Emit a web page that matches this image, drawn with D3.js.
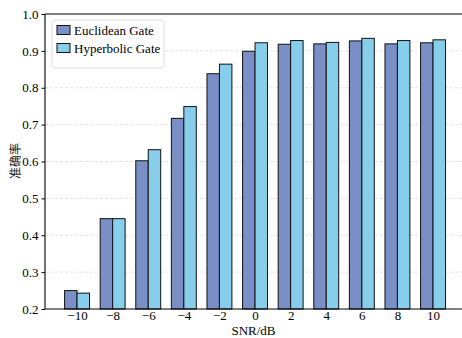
<!DOCTYPE html>
<html>
<head>
<meta charset="utf-8">
<script src="https://cdn.jsdelivr.net/npm/d3@7"></script>
<style>
  body { margin: 0; background: #fff; }
  svg text { font-family: "Liberation Serif", "Times New Roman", serif; }
</style>
</head>
<body>
<div id="chart"></div>
<script>
// data
const snr = [-10, -8, -6, -4, -2, 0, 2, 4, 6, 8, 10];
const euclidean = [0.250, 0.445, 0.602, 0.717, 0.838, 0.899, 0.918, 0.919, 0.927, 0.919, 0.922];
const hyperbolic = [0.243, 0.445, 0.632, 0.749, 0.864, 0.922, 0.928, 0.923, 0.934, 0.928, 0.930];
const yTicks = [0.2, 0.3, 0.4, 0.5, 0.6, 0.7, 0.8, 0.9, 1.0];
const seriesNames = ['Euclidean Gate', 'Hyperbolic Gate'];

const W = 462, H = 338;
const margin = { top: 14, bottom: 29, left: 45 };
const plotBottom = H - margin.bottom;
const colors = ['#7a8fc6', '#87ceeb'];
const serif = '"Liberation Serif", "Times New Roman", serif';

const svg = d3.select('#chart').append('svg')
  .attr('width', W)
  .attr('height', H)
  .attr('font-family', serif);

const x = d3.scaleLinear().domain([-11.8, 11.8]).range([margin.left, margin.left + 23.6 * 17.8]);
const y = d3.scaleLinear().domain([0.2, 1.0]).range([plotBottom, margin.top]);
const barW = 0.7; // in SNR units

// grid
svg.append('g')
  .selectAll('line')
  .data(yTicks.filter(d => d > 0.2 && d < 1.0))
  .join('line')
  .attr('x1', margin.left).attr('x2', W)
  .attr('y1', d => y(d)).attr('y2', d => y(d))
  .attr('stroke', '#d9d9d9')
  .attr('stroke-width', 0.8)
  .attr('stroke-dasharray', '3,2');

// bars
const series = [euclidean, hyperbolic];
series.forEach((vals, s) => {
  svg.append('g')
    .selectAll('rect')
    .data(snr)
    .join('rect')
    .attr('x', (d) => x(d + (s - 1) * barW))
    .attr('y', (d, i) => y(vals[i]))
    .attr('width', x(barW) - x(0))
    .attr('height', (d, i) => plotBottom - y(vals[i]))
    .attr('fill', colors[s])
    .attr('stroke', '#111')
    .attr('stroke-width', 1);
});

// axes
const yAxis = svg.append('g')
  .attr('transform', `translate(${margin.left},0)`)
  .call(d3.axisLeft(y).tickValues(yTicks).tickFormat(d3.format('.1f')).tickSize(3.5).tickPadding(3))
  .attr('font-family', serif)
  .attr('font-size', 13);
yAxis.select('.domain').remove();
yAxis.selectAll('text').attr('fill', '#000');

const xAxis = svg.append('g')
  .attr('transform', `translate(0,${plotBottom})`)
  .call(d3.axisBottom(x).tickValues(snr).tickFormat(d => d < 0 ? '\u2212' + Math.abs(d) : d).tickSize(0).tickPadding(2))
  .attr('font-family', serif)
  .attr('font-size', 13);
xAxis.select('.domain').remove();
xAxis.selectAll('text').attr('fill', '#000');

// spines
svg.append('line').attr('x1', margin.left).attr('x2', W).attr('y1', margin.top).attr('y2', margin.top)
  .attr('stroke', '#000').attr('stroke-width', 1.1);
svg.append('line').attr('x1', margin.left).attr('x2', W).attr('y1', plotBottom).attr('y2', plotBottom)
  .attr('stroke', '#000').attr('stroke-width', 1.1);
svg.append('line').attr('x1', margin.left).attr('x2', margin.left).attr('y1', margin.top).attr('y2', plotBottom)
  .attr('stroke', '#000').attr('stroke-width', 1.1);

// axis labels
svg.append('text')
  .attr('x', (margin.left + W) / 2)
  .attr('y', 335)
  .attr('text-anchor', 'middle')
  .attr('font-size', 13)
  .text('SNR/dB');

svg.append('text')
  .attr('transform', 'translate(20,161) rotate(-90)')
  .attr('text-anchor', 'middle')
  .attr('font-size', 12)
  .attr('fill', '#222')
  .style('font-family', '"Noto Sans CJK SC", sans-serif')
  .text('准确率');

// legend
const lg = svg.append('g').attr('transform', 'translate(52,20)');
lg.append('rect')
  .attr('width', 112).attr('height', 48)
  .attr('rx', 3)
  .attr('fill', '#fff').attr('fill-opacity', 0.85)
  .attr('stroke', '#ddd');
seriesNames.forEach((name, i) => {
  const row = lg.append('g').attr('transform', `translate(5,${10 + i * 18})`);
  row.append('rect')
    .attr('x', 0).attr('y', -4.5)
    .attr('width', 13).attr('height', 9)
    .attr('fill', colors[i]).attr('stroke', '#111');
  row.append('text')
    .attr('x', 17).attr('y', 4.5)
    .attr('font-size', 13)
    .text(name);
});
</script>
</body>
</html>
